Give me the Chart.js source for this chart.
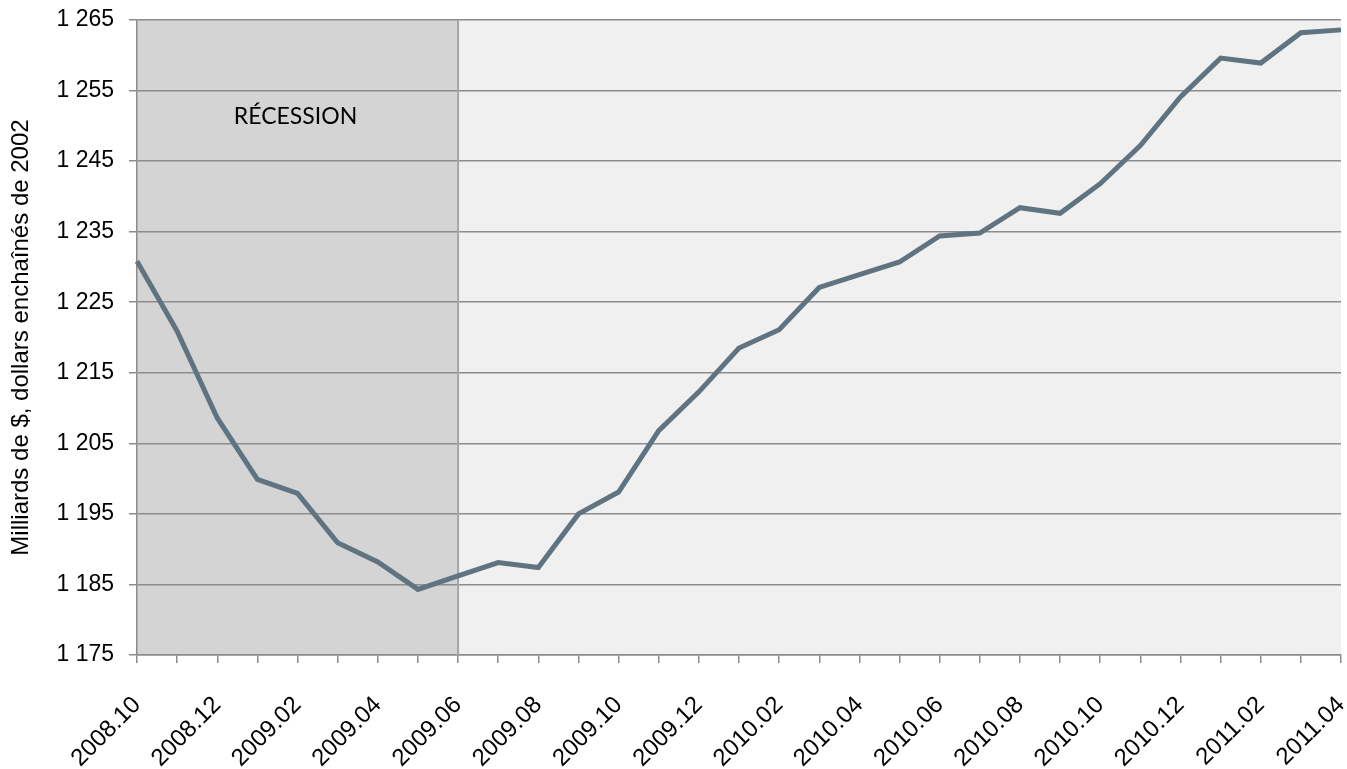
<!DOCTYPE html>
<html>
<head>
    <title>PIB réel - récession</title>
    <script src="https://cdn.jsdelivr.net/npm/chart.js"></script>
    <style>
        body { margin: 0; background: #ffffff; }
        #wrap { width: 1347px; height: 769px; position: relative; }
    </style>
</head>
<body>
    <div id="wrap">
        <canvas id="gdpChart"></canvas> <!-- Canvas for the chart -->
    </div>
    <script type="text/javascript">
        // Months on the x axis
        const months = [
            '2008.10', '2008.11', '2008.12', '2009.01', '2009.02', '2009.03', '2009.04', '2009.05',
            '2009.06', '2009.07', '2009.08', '2009.09', '2009.10', '2009.11', '2009.12', '2010.01',
            '2010.02', '2010.03', '2010.04', '2010.05', '2010.06', '2010.07', '2010.08', '2010.09',
            '2010.10', '2010.11', '2010.12', '2011.01', '2011.02', '2011.03', '2011.04'
        ];

        // Billions of chained 2002 dollars
        const gdpValues = [
            1230.8, 1220.9, 1208.6, 1199.9, 1197.9, 1190.9, 1188.2, 1184.3,
            1186.2, 1188.1, 1187.4, 1195.0, 1198.1, 1206.8, 1212.3, 1218.5,
            1221.1, 1227.1, 1228.9, 1230.7, 1234.4, 1234.8, 1238.4, 1237.6,
            1241.8, 1247.2, 1254.1, 1259.6, 1258.9, 1263.2, 1263.6
        ];

        // Y axis range and step
        const yMin = 1175;
        const yMax = 1265;
        const yStep = 10;

        // Recession period and its label
        const recessionStart = '2008.10';
        const recessionEnd = '2009.06';
        const recessionLabel = 'RÉCESSION';
        const recessionLabelValue = 1251.3;

        const axisTitle = 'Milliards de $, dollars enchaînés de 2002';

        // Background and recession shading, drawn before the grid
        const shadingPlugin = {
            id: 'shading',
            beforeDraw(chart) {
                const ctx = chart.ctx;
                const area = chart.chartArea;
                const x = chart.scales.x;
                ctx.save();
                ctx.fillStyle = '#f0f0f0';
                ctx.fillRect(area.left, area.top, area.right - area.left, area.bottom - area.top);
                const x0 = x.getPixelForValue(months.indexOf(recessionStart));
                const x1 = x.getPixelForValue(months.indexOf(recessionEnd));
                ctx.fillStyle = '#d4d4d4';
                ctx.fillRect(x0, area.top, x1 - x0, area.bottom - area.top);
                ctx.restore();
            },
            beforeDatasetsDraw(chart) {
                const ctx = chart.ctx;
                const area = chart.chartArea;
                const x = chart.scales.x;
                const y = chart.scales.y;
                const x0 = x.getPixelForValue(months.indexOf(recessionStart));
                const x1 = x.getPixelForValue(months.indexOf(recessionEnd));
                ctx.save();
                // right edge of the recession box
                ctx.strokeStyle = '#a6a6a6';
                ctx.lineWidth = 2;
                ctx.beginPath();
                ctx.moveTo(x1, area.top);
                ctx.lineTo(x1, area.bottom);
                ctx.stroke();
                // label
                ctx.fillStyle = '#000000';
                ctx.font = '23px Lato';
                ctx.textAlign = 'center';
                ctx.textBaseline = 'middle';
                ctx.fillText(recessionLabel, (x0 + x1) / 2 - 2, y.getPixelForValue(recessionLabelValue));
                ctx.restore();
            }
        };

        const ctx = document.getElementById('gdpChart').getContext('2d');
        const gdpChart = new Chart(ctx, {
            type: 'line',
            data: {
                labels: months,
                datasets: [{
                    label: 'PIB',
                    data: gdpValues,
                    borderColor: '#5f7380',
                    borderWidth: 5,
                    pointRadius: 0,
                    tension: 0,
                    fill: false
                }]
            },
            plugins: [shadingPlugin],
            options: {
                responsive: true,
                maintainAspectRatio: false,
                animation: false,
                devicePixelRatio: 1,
                layout: {
                    padding: { top: 20, right: 6, bottom: 0, left: 0 }
                },
                plugins: {
                    legend: { display: false },
                    tooltip: { enabled: false }
                },
                scales: {
                    x: {
                        offset: false,
                        grid: {
                            drawOnChartArea: false,
                            drawTicks: true,
                            tickLength: 8,
                            color: '#8c8c8c',
                            lineWidth: 1.5
                        },
                        border: { color: '#8c8c8c', width: 1.5 },
                        ticks: {
                            autoSkip: false,
                            maxRotation: 45,
                            minRotation: 45,
                            padding: 28,
                            color: '#000000',
                            font: { family: 'Liberation Sans', size: 24 },
                            callback: function(value, index) {
                                return index % 2 === 0 ? months[index] : '';
                            }
                        },
                        afterFit: function(scale) {
                            scale.height = 114;
                            scale.paddingLeft = 0;
                            scale.paddingRight = 0;
                        }
                    },
                    y: {
                        min: yMin,
                        max: yMax,
                        grid: {
                            color: '#8c8c8c',
                            lineWidth: 1.5,
                            tickLength: 8
                        },
                        border: { color: '#8c8c8c', width: 1.5 },
                        ticks: {
                            stepSize: yStep,
                            padding: 15,
                            color: '#000000',
                            font: { family: 'Liberation Sans', size: 23 },
                            callback: function(value) {
                                return String(value).replace(/\B(?=(\d{3})+(?!\d))/g, ' ');
                            }
                        },
                        title: {
                            display: true,
                            text: axisTitle,
                            color: '#000000',
                            font: { family: 'Liberation Sans', size: 24 },
                            padding: { top: 7, bottom: 0 }
                        },
                        afterFit: function(scale) {
                            scale.width = 137;
                            scale.paddingTop = 0;
                            scale.paddingBottom = 0;
                        }
                    }
                }
            }
        });
    </script>
</body>
</html>
